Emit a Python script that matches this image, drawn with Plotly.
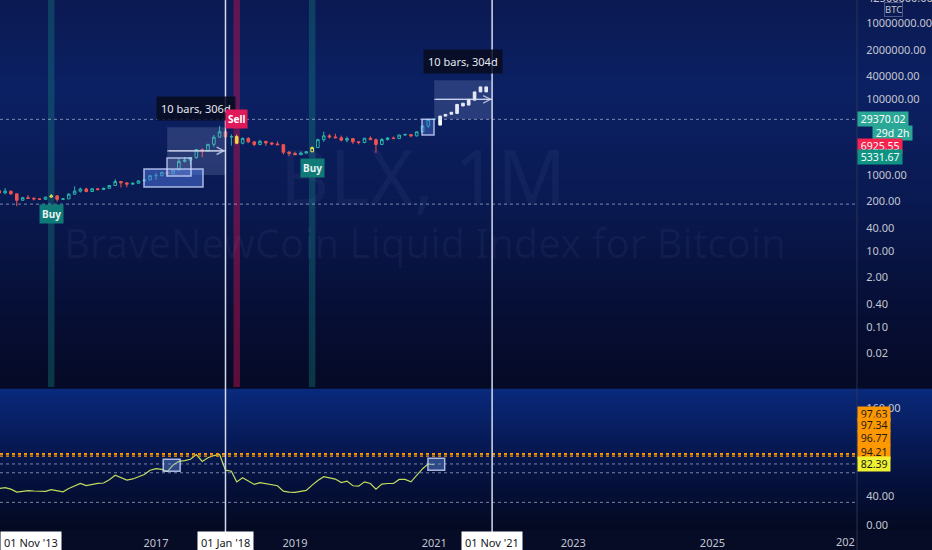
import numpy as np
import pandas as pd
import plotly.graph_objects as go

# ---- monthly BLX candles (Oct 2014 .. Jan 2021) ----
months = pd.date_range("2014-10-01", "2021-01-01", freq="MS")
bar_open = [388, 338, 378, 320, 217, 254, 244, 236, 230, 264, 284, 230, 236, 314, 377,
            430, 369, 437, 416, 448, 531, 674, 624, 575, 610, 700, 745, 964, 970, 1190,
            1080, 1348, 2300, 2480, 2875, 4700, 4340, 6450, 9950, 13850, 10100, 10300,
            6900, 9250, 7500, 6400, 7730, 7000, 6600, 6300, 4000, 3700, 3450, 3800, 4100,
            5300, 8550, 10800, 10100, 9600, 8300, 9150, 7550, 7200, 9350, 8550, 6400,
            8650, 9450, 9140, 11350, 11650, 10780, 13800, 19700, 28950]
bar_high = [414, 457, 384, 320, 265, 300, 262, 247, 267, 315, 286, 247, 334, 503, 466,
            463, 446, 439, 467, 546, 778, 704, 627, 628, 738, 755, 975, 1155, 1213, 1292,
            1375, 2790, 3000, 2950, 4750, 5000, 6450, 11400, 19800, 17200, 11800, 11600,
            9800, 9950, 7770, 8500, 7760, 7400, 7700, 6550, 4300, 4100, 4200, 4150, 5600,
            9100, 13900, 12100, 12300, 10950, 10350, 9500, 7750, 9550, 10500, 9200, 9450,
            10050, 10400, 11450, 12450, 12100, 14100, 19800, 29300, 29600]
bar_low = [275, 313, 300, 152, 212, 236, 214, 225, 221, 254, 199, 224, 235, 306, 347,
           352, 365, 393, 413, 437, 516, 470, 479, 570, 604, 680, 741, 750, 913, 892,
           1060, 1336, 2150, 1830, 2700, 2950, 4100, 5500, 9950, 9200, 6000, 6500,
           6450, 7000, 5750, 6100, 5880, 6100, 6200, 3500, 3150, 3350, 3400, 3700, 4050,
           5300, 7500, 9100, 9400, 7750, 7300, 6550, 6450, 6900, 8450, 3850, 6150,
           8100, 8950, 8950, 10950, 9900, 10400, 13200, 17600, 28700]
bar_close = [338, 378, 320, 217, 254, 244, 236, 230, 264, 284, 230, 236, 314, 377, 430,
             369, 437, 416, 448, 531, 674, 624, 575, 610, 700, 745, 964, 970, 1190, 1080,
             1348, 2300, 2480, 2875, 4700, 4340, 6450, 9950, 13850, 10100, 10300, 6900,
             9250, 7500, 6400, 7730, 7000, 6600, 6300, 4000, 3700, 3450, 3800, 4100, 5300,
             8550, 10800, 10100, 9600, 8300, 9150, 7550, 7200, 9350, 8550, 6400, 8650,
             9450, 9140, 11350, 11650, 10780, 13800, 19700, 28950, 29370.02]

# lower pane oscillator, same months
osc = [50, 51, 49, 45, 46, 47, 46.5, 46.4, 46, 48.5, 47, 45.5, 50, 54, 57, 54, 56, 57,
       57.5, 62, 68, 65, 61.5, 63, 66, 69, 75, 77, 76, 73, 82, 87, 88, 90, 96.4, 87, 92,
       95, 96.5, 75, 73.5, 59, 64.6, 60, 55.5, 58, 56.5, 55, 53.7, 46.4, 45, 44.6, 45.5,
       47.3, 54.6, 61, 66, 64, 62.8, 58, 60, 53.7, 53.2, 59, 56.8, 49, 55.9, 56.8, 56.8,
       62.3, 62.3, 59, 68, 77, 83.6, 82.39]
osc_levels = [83.5, 71.5, 31]
orange_levels = [97.63, 97.34, 96.77, 94.21]
orange_label_shift = [40, 28.5, 16.5, 4.5]

# signals
signal_dates = ["2015-07-01", "2018-03-01", "2019-04-01"]
signal_text = ["Buy", "Sell", "Buy"]

# projected "bars pattern" (Feb .. Oct 2021)
proj_months = pd.date_range("2021-02-01", "2021-10-01", freq="MS")
proj_low = [20700, 35700, 40000, 42000, 66000, 69600, 94000, 155000, 155000]
proj_high = [35700, 39600, 45000, 72600, 78000, 98600, 155000, 210000, 210000]

# price levels shown on the right scale
last_price = 29370.02
level_red = 6925.55
level_teal = 5331.67
dotted_low_level = 172
price_ticks = [0.02, 0.1, 0.4, 2, 10, 40, 200, 1000, 100000, 400000, 2000000, 10000000]

# drawings: date range measures and boxes
ranges = [("2017-03-01", "2018-01-01", 1000, 18300, 4350),
          ("2021-01-01", "2021-11-01", 29370, 316000, 98600)]
boxes_top = [("2016-10-30", "2017-09-05", 483, 1438, "rgba(80,120,225,0.5)"),
             ("2017-02-28", "2017-07-04", 940, 2800, "rgba(170,190,255,0.12)"),
             ("2020-10-29", "2020-12-31", 11300, 29700, "rgba(80,120,225,0.4)")]
boxes_osc = [("2017-02-08", "2017-05-08", 73.7, 90),
             ("2020-11-29", "2021-02-25", 75, 91.4)]
cursor_dates = ["2018-01-01", "2021-11-01"]

FONT = "Noto Sans"
TXT = "#c3c6d0"
sig = [pd.Timestamp(d) for d in signal_dates]
is_sig = [m in sig for m in months]

fig = go.Figure()

# ---- background gradients (pixel rows -> paper) ----
H_PLOT = 530.0
XR = 932 / 857


def py(px):
    return 1 - px / H_PLOT


def grad(stops, top, bot, step):
    shapes = []
    y = top
    while y < bot:
        y2 = min(y + step, bot)
        mid = (y + y2) / 2
        c = [np.interp(mid, [s[0] for s in stops], [s[1][i] for s in stops]) for i in range(3)]
        shapes.append(dict(type="rect", xref="paper", yref="paper", x0=0, x1=XR,
                           y0=py(y2) - 0.0005, y1=py(y) + 0.0005, line_width=0, layer="below",
                           fillcolor="rgb(%d,%d,%d)" % tuple(int(v) for v in c)))
        y = y2
    return shapes


shapes = []
shapes += grad([(0, (11, 26, 82)), (90, (12, 33, 100)), (200, (10, 26, 82)),
                (300, (7, 16, 56)), (387, (5, 10, 38))], 0, 387, 5)
shapes += grad([(389, (10, 42, 125)), (430, (8, 30, 95)), (480, (6, 18, 62)),
                (530, (4, 10, 34))], 389, 530, 4)

# signal bands
for d, t in zip(sig, signal_text):
    shapes.append(dict(type="rect", xref="x", yref="y domain", layer="below",
                       x0=d - pd.Timedelta(days=17), x1=d + pd.Timedelta(days=17), y0=0, y1=1,
                       line_width=0,
                       fillcolor="rgba(200,20,80,0.45)" if t == "Sell" else "rgba(20,125,125,0.38)"))

# dotted price lines
for lv in [last_price, dotted_low_level]:
    shapes.append(dict(type="line", xref="paper", yref="y", x0=0, x1=1, y0=lv, y1=lv,
                       line=dict(color="rgba(200,210,235,0.6)", width=1, dash="dot")))
for lv in osc_levels:
    shapes.append(dict(type="line", xref="paper", yref="y2", x0=0, x1=1, y0=lv, y1=lv,
                       line=dict(color="rgba(200,210,235,0.6)", width=1, dash="dot")))
for lv in orange_levels:
    shapes.append(dict(type="line", xref="paper", yref="y2", x0=0, x1=1, y0=lv, y1=lv,
                       line=dict(color="#ff9800", width=1.2, dash="dot")))

# range measure boxes
for x0, x1, lo, hi, mid in ranges:
    shapes.append(dict(type="rect", xref="x", yref="y", x0=x0, x1=x1, y0=lo, y1=hi,
                       line_width=0, fillcolor="rgba(150,165,215,0.22)", layer="above"))
    shapes.append(dict(type="line", xref="x", yref="y", x0=x0, x1=x1, y0=mid, y1=mid,
                       line=dict(color="rgba(215,222,245,0.75)", width=1.3)))
for x0, x1, lo, hi, col in boxes_top:
    shapes.append(dict(type="rect", xref="x", yref="y", x0=x0, x1=x1, y0=lo, y1=hi,
                       fillcolor=col, line=dict(color="rgba(205,218,255,0.8)", width=1.5)))
for x0, x1, lo, hi in boxes_osc:
    shapes.append(dict(type="rect", xref="x", yref="y2", x0=x0, x1=x1, y0=lo, y1=hi,
                       fillcolor="rgba(110,150,230,0.4)", line=dict(color="rgba(205,218,255,0.8)", width=1.5)))

# cursor lines
for d in cursor_dates:
    shapes.append(dict(type="line", xref="x", yref="paper", x0=d, x1=d, y0=-0.012, y1=1,
                       line=dict(color="#d3d9ee", width=1.5)))
# scale separator
shapes.append(dict(type="line", xref="paper", yref="paper", x0=1, x1=1, y0=-0.04, y1=1,
                   line=dict(color="rgba(45,55,90,0.9)", width=1)))
shapes.append(dict(type="rect", xref="paper", yref="paper", x0=-0.01, x1=XR, y0=-0.04, y1=0,
                   fillcolor="#060b26", line_width=0, layer="below"))

# ---- traces ----
reg = [not s for s in is_sig]
fig.add_trace(go.Candlestick(
    x=months[reg], open=np.array(bar_open)[reg], high=np.array(bar_high)[reg],
    low=np.array(bar_low)[reg], close=np.array(bar_close)[reg],
    increasing=dict(line=dict(color="#2ab7ad", width=1), fillcolor="rgba(0,0,0,0)"),
    decreasing=dict(line=dict(color="#ef5350", width=1), fillcolor="#ef5350"),
    whiskerwidth=0, xaxis="x", yaxis="y", hoverinfo="skip"))
fig.add_trace(go.Candlestick(
    x=months[is_sig], open=np.array(bar_open)[is_sig], high=np.array(bar_high)[is_sig],
    low=np.array(bar_low)[is_sig], close=np.array(bar_close)[is_sig],
    increasing=dict(line=dict(color="#e6e65a", width=1), fillcolor="rgba(0,0,0,0)"),
    decreasing=dict(line=dict(color="#f2d640", width=1), fillcolor="#f2d640"),
    whiskerwidth=0, xaxis="x", yaxis="y", hoverinfo="skip"))
fig.add_trace(go.Candlestick(
    x=proj_months, open=proj_low, high=proj_high, low=proj_low, close=proj_high,
    increasing=dict(line=dict(color="#ffffff", width=1), fillcolor="#ffffff"),
    whiskerwidth=0, xaxis="x", yaxis="y", hoverinfo="skip"))
fig.add_trace(go.Scatter(x=months, y=osc, mode="lines", xaxis="x", yaxis="y2",
                         line=dict(color="#c2dc5e", width=1.2), hoverinfo="skip"))

# ---- annotations ----
ann = []
ann.append(dict(text="BLX, 1M", xref="paper", yref="paper", x=0.493, y=py(175),
                xanchor="center", yanchor="middle", showarrow=False,
                font=dict(size=76, color="rgba(150,170,235,0.06)", family=FONT)))
ann.append(dict(text="BraveNewCoin Liquid Index for Bitcoin", xref="paper", yref="paper",
                x=0.496, y=py(242), xanchor="center", yanchor="middle", showarrow=False,
                font=dict(size=40, color="rgba(150,170,235,0.06)", family=FONT)))

for x0, x1, lo, hi, mid in ranges:
    t0, t1 = pd.Timestamp(x0), pd.Timestamp(x1)
    nbars = (t1.year - t0.year) * 12 + t1.month - t0.month
    ndays = (t1 - t0).days
    ann.append(dict(text=f"{nbars} bars, {ndays}d", x=t0 + (t1 - t0) / 2, y=np.log10(hi),
                    yanchor="bottom", yshift=6, showarrow=False, bgcolor="rgba(8,12,30,0.85)",
                    borderpad=4, font=dict(size=11, color="#e6e8ef", family=FONT)))
    ann.append(dict(text="", x=x1, y=np.log10(mid), ax=x0, ay=np.log10(mid), axref="x",
                    ayref="y", showarrow=True, arrowhead=5, arrowsize=1.2, arrowwidth=1.2,
                    arrowcolor="rgba(215,222,245,0.75)"))

for d, t in zip(sig, signal_text):
    i = list(months).index(d)
    if t == "Sell":
        ann.append(dict(text="<b>Sell</b>", x=d, y=np.log10(bar_high[i]), yanchor="bottom",
                        yshift=6, showarrow=False, bgcolor="#e0195a", borderpad=2,
                        font=dict(size=10, color="white", family=FONT)))
    else:
        ann.append(dict(text="<b>Buy</b>", x=d, y=np.log10(bar_low[i]), yanchor="top",
                        yshift=-6, showarrow=False, bgcolor="#0f7a78", borderpad=2,
                        font=dict(size=10, color="#e8f4f2", family=FONT)))


# right scale labels
def price_label(text, y, bg, yshift=0, fc="white", yref="y", x=1.0, xanchor="left"):
    return dict(text=text, xref="paper", yref=yref, x=x, y=y, xanchor=xanchor,
                yanchor="middle", yshift=yshift, showarrow=False, bgcolor=bg, borderpad=0,
                font=dict(size=10.5, color=fc, family=FONT))


ann.append(price_label(f" {last_price:.2f} ", np.log10(last_price), "#2aa796"))
ann.append(price_label(" 29d 2h ", np.log10(last_price), "#2aa796", yshift=-13.5, x=913 / 857,
                       xanchor="right"))
ann.append(price_label(f" {level_red:.2f} ", np.log10(level_red), "#f5234d", yshift=-2.5))
ann.append(price_label(f" {level_teal:.2f} ", np.log10(level_teal), "#0f9484", yshift=-10))
for lv, sh in zip(orange_levels, orange_label_shift):
    ann.append(price_label(f" {lv:.2f} ", lv, "#ff9800", yshift=sh, fc="#1b1b1b", yref="y2"))
ann.append(price_label(f" {osc[-1]:.2f} ", osc[-1], "#eef230", yshift=1, fc="#1b1b1b", yref="y2"))
ann.append(dict(text="42500000.00", xref="paper", yref="paper", x=1 + 8 / 857, y=1.004,
                xanchor="left", yanchor="middle", showarrow=False,
                font=dict(size=11, color=TXT, family=FONT)))
ann.append(dict(text="BTC", xref="paper", yref="paper", x=893 / 857, y=py(10),
                xanchor="center", yanchor="middle", showarrow=False,
                bordercolor="rgba(120,130,160,0.6)", borderwidth=1, borderpad=0,
                font=dict(size=9.5, color=TXT, family=FONT)))

# time scale labels
ann.append(dict(text="01 Nov '13", xref="paper", yref="paper", x=0, y=0, xanchor="left",
                yanchor="top", yshift=-1, showarrow=False, bgcolor="white", borderpad=3,
                font=dict(size=11, color="#131722", family=FONT)))
for d, t in zip(cursor_dates, ["01 Jan '18", "01 Nov '21"]):
    ann.append(dict(text=t, xref="x", yref="paper", x=d, y=0, yanchor="top", yshift=-1,
                    showarrow=False, bgcolor="white", borderpad=3,
                    font=dict(size=11, color="#131722", family=FONT)))
ann.append(dict(text="202", xref="paper", yref="paper", x=1, y=0, xanchor="right",
                yanchor="top", yshift=-2, showarrow=False, font=dict(size=11, color=TXT, family=FONT)))

fig.update_layout(
    width=932, height=550, margin=dict(l=0, r=75, t=0, b=20, autoexpand=False),
    paper_bgcolor="#060b26", plot_bgcolor="#060b26", showlegend=False, hovermode=False,
    font=dict(family=FONT, size=11, color=TXT),
    shapes=shapes, annotations=ann,
    xaxis=dict(type="date", range=["2014-10-05", "2027-01-30"], anchor="y2", domain=[0, 1],
               rangeslider=dict(visible=False), showgrid=False, zeroline=False,
               tickvals=["2017-01-01", "2019-01-01", "2021-01-01", "2023-01-01", "2025-01-01"],
               ticktext=["2017", "2019", "2021", "2023", "2025"], ticks="outside", ticklen=3,
               tickcolor="rgba(0,0,0,0)", tickfont=dict(size=11, color=TXT), automargin=False),
    yaxis=dict(type="log", domain=[(H_PLOT - 387) / H_PLOT, 1], range=[-2.58, 7.61],
               side="right", showgrid=False, zeroline=False, tickvals=price_ticks,
               ticktext=[f"{v:.2f}" for v in price_ticks], ticks="outside", ticklen=6,
               tickcolor="rgba(0,0,0,0)", tickfont=dict(size=11, color=TXT), automargin=False),
    yaxis2=dict(domain=[0, (H_PLOT - 389) / H_PLOT], range=[-6.8, 186], side="right",
                showgrid=False, zeroline=False, tickvals=[0, 40, 160],
                ticktext=["0.00", "40.00", "160.00"], ticks="outside", ticklen=6,
                tickcolor="rgba(0,0,0,0)", tickfont=dict(size=11, color=TXT), automargin=False),
)

fig.write_html("out.html", config={"displayModeBar": False},
               post_script="document.body.style.margin='0px';")
